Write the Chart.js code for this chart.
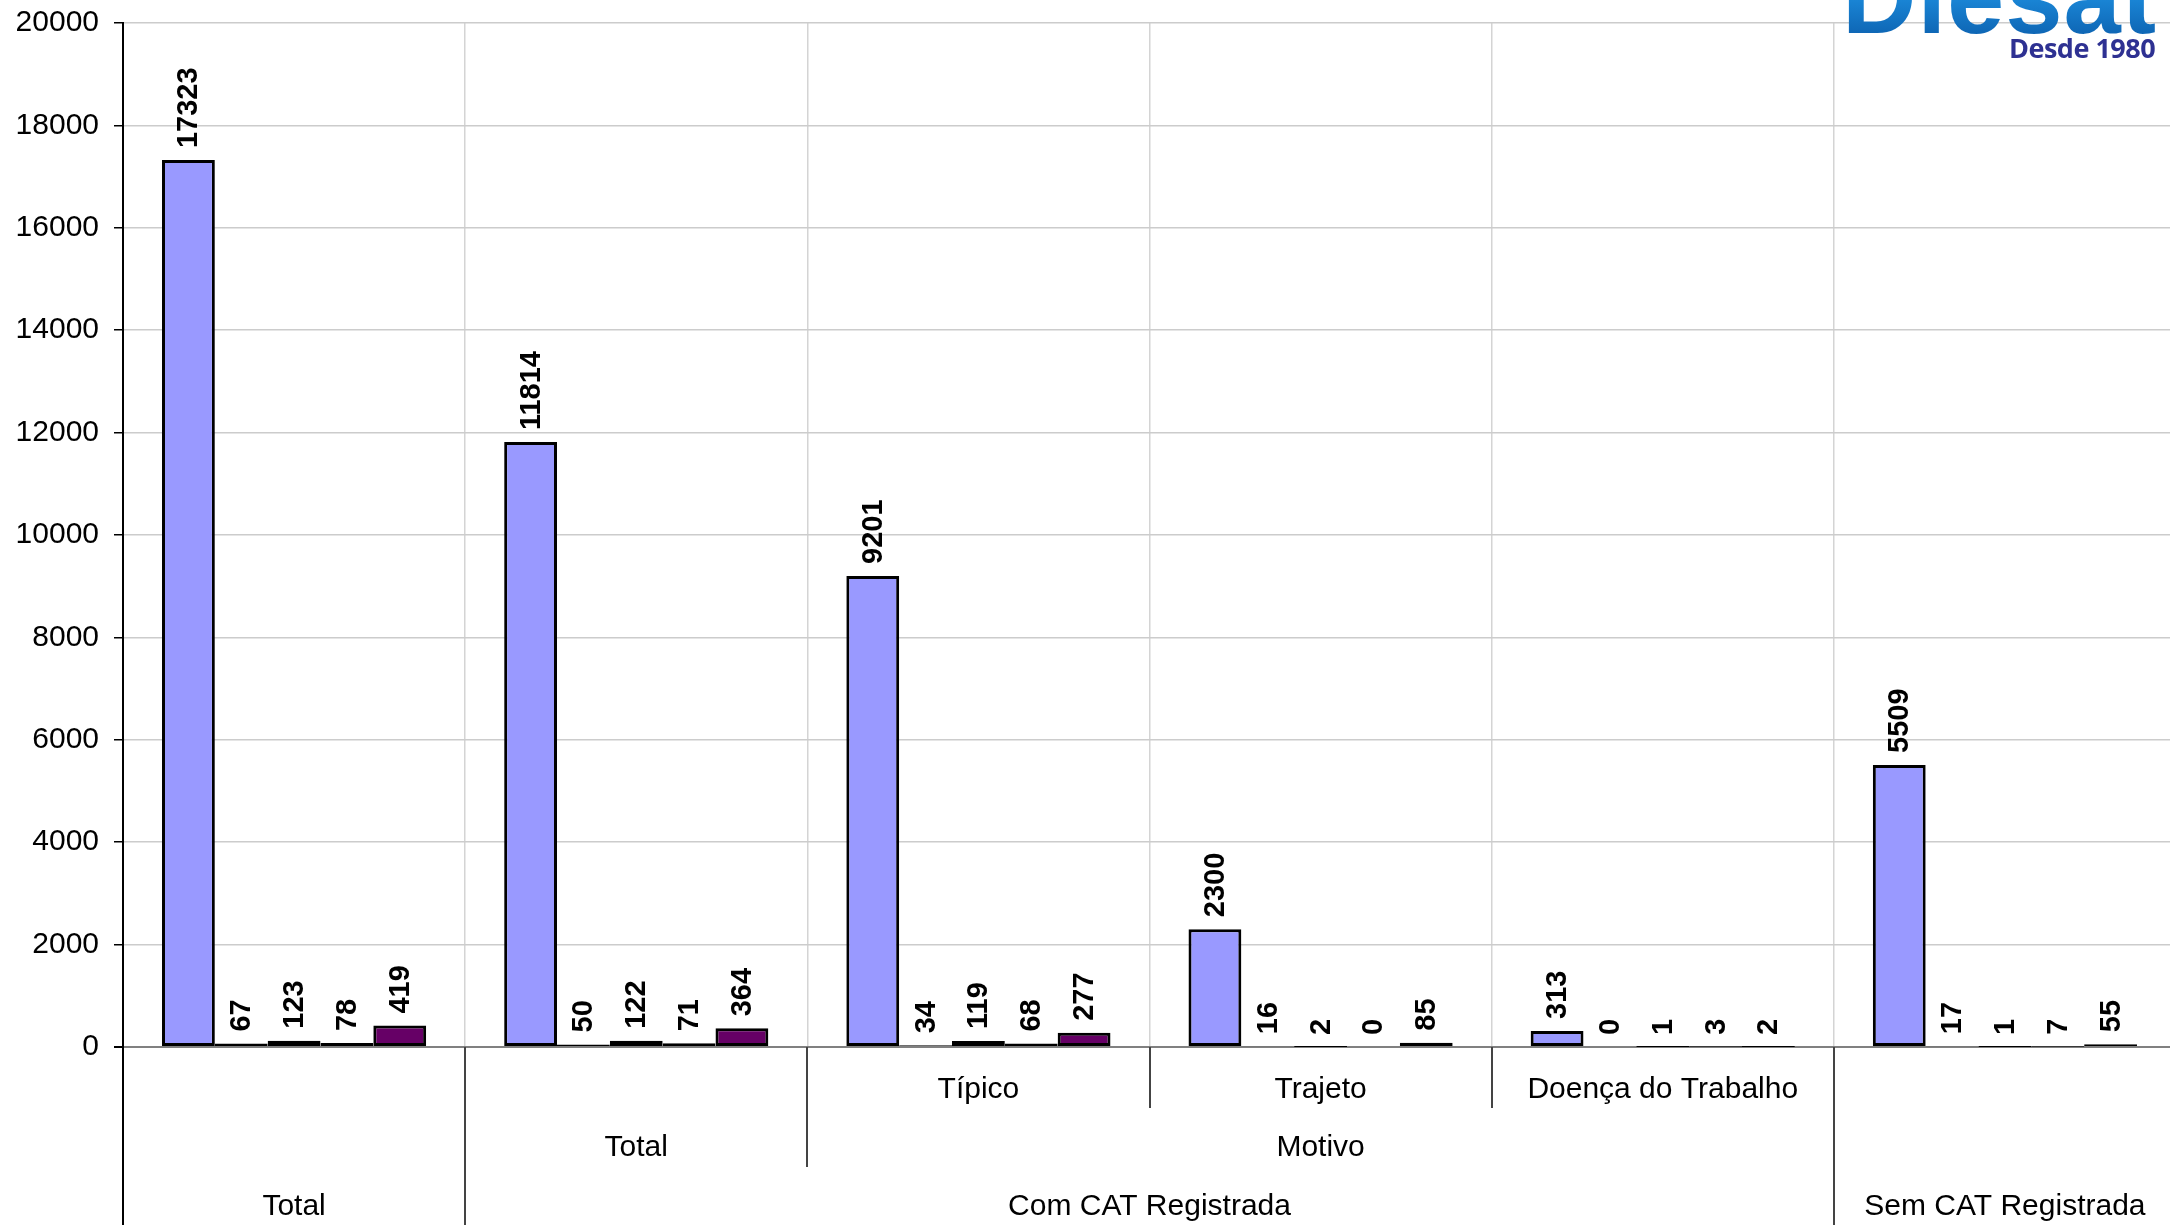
<!DOCTYPE html>
<html lang="pt-BR">
<head>
<meta charset="utf-8">
<title>CAT Registrada</title>
<script src="https://cdn.jsdelivr.net/npm/chart.js@4.4.1/dist/chart.umd.min.js"></script>
<style>
  html, body { margin: 0; padding: 0; background: #fff; overflow: hidden; }
  .wrap { position: relative; width: 2170px; height: 1225px; overflow: hidden; }
  #chart { position: absolute; left: 0; top: 0; }
  .logo { position: absolute; left: 1842px; top: -52px; font-family: 'Liberation Sans', Arial, sans-serif; font-weight: 700; font-size: 103px; line-height: 100px; letter-spacing: 1px;
    background: linear-gradient(180deg, #4fb3f0 0%, #1a86d6 50%, #0a5aa8 100%); -webkit-background-clip: text; background-clip: text; color: transparent; }
  .since { position: absolute; left: 2009px; top: 32px; font-family: 'Open Sans', sans-serif; font-weight: 700; font-size: 27px; line-height: 32px; color: #2e3192; letter-spacing: -0.5px; }
</style>
</head>
<body>
<div class="wrap">
  <canvas id="chart" width="2180" height="1225"></canvas>
  <div class="logo">Diesat</div>
  <div class="since">Desde 1980</div>
</div>
<script>
// Categories (one per column of bars)
const categories = ['Total', 'Com CAT - Total', 'Típico', 'Trajeto', 'Doença do Trabalho', 'Sem CAT Registrada'];

// Series values
const serie1 = [17323, 11814, 9201, 2300, 313, 5509];
const serie2 = [67, 50, 34, 16, 0, 17];
const serie3 = [123, 122, 119, 2, 1, 1];
const serie4 = [78, 71, 68, 0, 3, 7];
const serie5 = [419, 364, 277, 85, 2, 55];

const seriesColors = ['#9999ff', '#ccffcc', '#ffffcc', '#808080', '#660066'];

// Y axis ticks
const yTicks = [0, 2000, 4000, 6000, 8000, 10000, 12000, 14000, 16000, 18000, 20000];

// Multi-level category labels
const innerLabels = ['', '', 'Típico', 'Trajeto', 'Doença do Trabalho', ''];
const midGroups = [
  { label: 'Total', from: 1, to: 1 },
  { label: 'Motivo', from: 2, to: 4 }
];
const outerGroups = [
  { label: 'Total', from: 0, to: 0 },
  { label: 'Com CAT Registrada', from: 1, to: 4 },
  { label: 'Sem CAT Registrada', from: 5, to: 5 }
];

const FONT = "'Liberation Sans', Arial, Helvetica, sans-serif";

// Rotated value labels above each bar
const valueLabels = {
  id: 'valueLabels',
  afterDatasetsDraw(chart) {
    const ctx = chart.ctx;
    ctx.save();
    ctx.font = `bold 29px ${FONT}`;
    ctx.fillStyle = '#000';
    ctx.textAlign = 'left';
    ctx.textBaseline = 'middle';
    chart.data.datasets.forEach((ds, di) => {
      const meta = chart.getDatasetMeta(di);
      meta.data.forEach((bar, i) => {
        ctx.save();
        ctx.translate(bar.x, bar.y - 12);
        ctx.rotate(-Math.PI / 2);
        ctx.fillText(String(ds.data[i]), 0, 1);
        ctx.restore();
      });
    });
    ctx.restore();
  }
};

// Category labels in three rows, with the separator lines between groups
const groupAxis = {
  id: 'groupAxis',
  afterDraw(chart) {
    const ctx = chart.ctx;
    const x = chart.scales.x;
    const top = chart.chartArea.bottom;
    const edge = i => x.getPixelForValue(i - 0.5);
    const rows = [{ mid: 1090, end: 1108 }, { mid: 1148, end: 1167 }, { mid: 1207, end: 1225 }];

    // separator depth for each boundary
    const depth = {};
    const mark = (b, d) => { depth[b] = Math.max(depth[b] || 0, d); };
    innerLabels.forEach((l, i) => { if (l) { mark(i, 0); mark(i + 1, 0); } });
    midGroups.forEach(g => { mark(g.from, 1); mark(g.to + 1, 1); });
    outerGroups.forEach(g => { mark(g.from, 2); mark(g.to + 1, 2); });

    ctx.save();
    Object.keys(depth).forEach(b => {
      const px = Math.round(edge(+b));
      ctx.strokeStyle = +b === 0 ? '#000' : '#444';
      ctx.lineWidth = 2;
      ctx.beginPath();
      ctx.moveTo(px, top);
      ctx.lineTo(px, rows[depth[b]].end);
      ctx.stroke();
    });

    ctx.font = `30px ${FONT}`;
    ctx.fillStyle = '#000';
    ctx.textAlign = 'center';
    ctx.textBaseline = 'middle';
    innerLabels.forEach((l, i) => {
      if (l) ctx.fillText(l, x.getPixelForValue(i), rows[0].mid);
    });
    midGroups.forEach(g => {
      ctx.fillText(g.label, (edge(g.from) + edge(g.to + 1)) / 2, rows[1].mid);
    });
    outerGroups.forEach(g => {
      ctx.fillText(g.label, (edge(g.from) + edge(g.to + 1)) / 2, rows[2].mid);
    });
    ctx.restore();
  }
};

function renderChart() {
  const canvas = document.getElementById('chart');
  const series = [serie1, serie2, serie3, serie4, serie5];
  new Chart(canvas.getContext('2d'), {
    type: 'bar',
    data: {
      labels: categories,
      datasets: series.map((data, i) => ({
        label: 'Série ' + (i + 1),
        data,
        backgroundColor: seriesColors[i],
        borderColor: '#000',
        borderWidth: 3,
        borderSkipped: false,
        categoryPercentage: 0.772,
        barPercentage: 1
      }))
    },
    options: {
      responsive: false,
      animation: false,
      layout: { padding: { top: 23, right: 4, left: 0, bottom: 0 } },
      plugins: { legend: { display: false }, tooltip: { enabled: false } },
      scales: {
        x: {
          offset: true,
          ticks: { display: false },
          grid: { offset: true, color: '#d4d4d4', lineWidth: 1.5, drawTicks: false },
          border: { color: '#808080', width: 2 },
          afterFit: (s) => { s.height = 178; }
        },
        y: {
          min: yTicks[0],
          max: yTicks[yTicks.length - 1],
          afterBuildTicks: (s) => { s.ticks = yTicks.map(v => ({ value: v })); },
          ticks: { color: '#000', font: { family: FONT, size: 30 }, padding: 15, callback: (v) => String(v) },
          grid: {
            color: (c) => c.tick && c.tick.value === 0 ? '#808080' : '#cccccc',
            lineWidth: (c) => c.tick && c.tick.value === 0 ? 2 : 1.5,
            tickColor: '#000',
            tickLength: 9
          },
          border: { color: '#000', width: 2 },
          afterFit: (s) => { s.width = 123; s.paddingTop = 0; s.paddingBottom = 0; }
        }
      }
    },
    plugins: [valueLabels, groupAxis]
  });
}

document.addEventListener('DOMContentLoaded', renderChart);
</script>
</body>
</html>
